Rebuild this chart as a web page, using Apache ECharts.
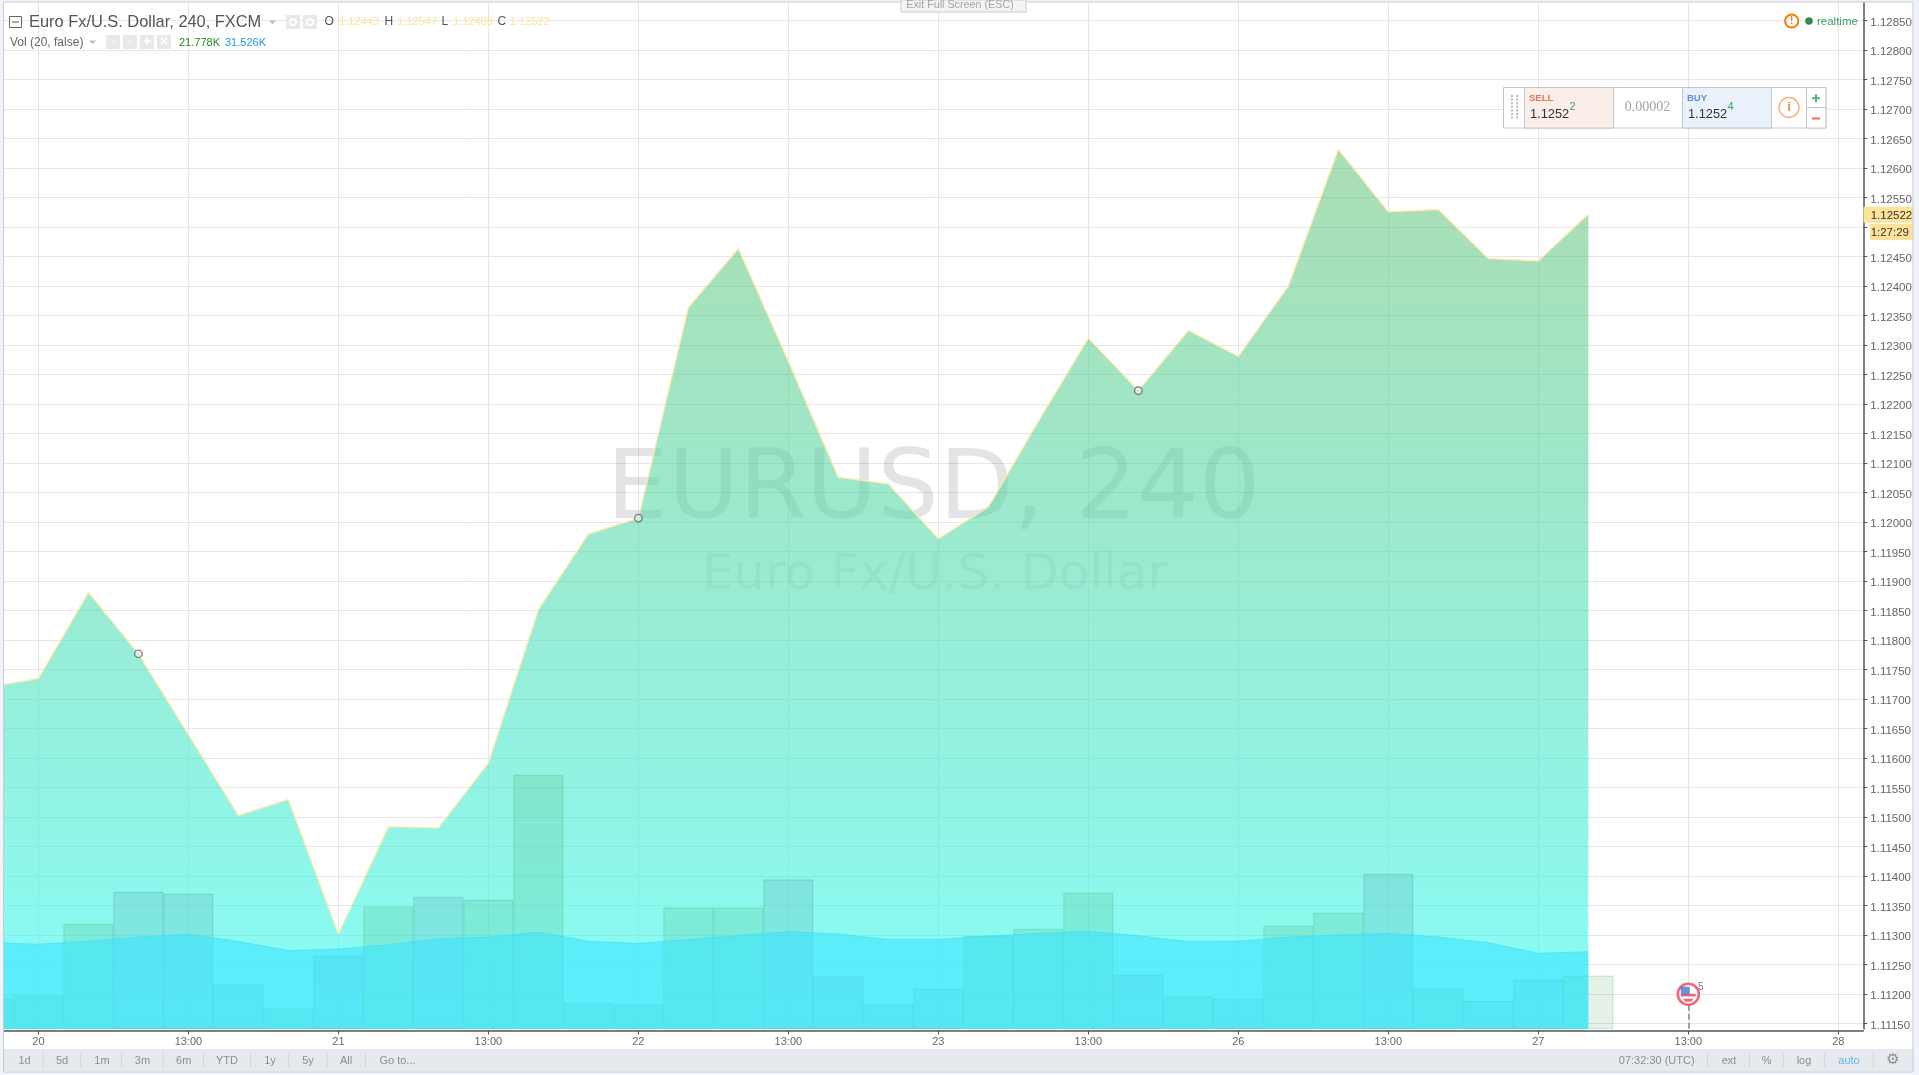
<!DOCTYPE html>
<html><head><meta charset="utf-8"><title>EURUSD 240</title>
<script src="https://cdn.jsdelivr.net/npm/echarts@6/dist/echarts.min.js"></script>
<style>html,body{margin:0;padding:0;background:#fff}#c{width:1919px;height:1075px}</style></head>
<body><div id="c"></div>
<script>
// bar index -1 .. 31 (4-hour bars), x tick every third bar
const barIndex = [-1,0,1,2,3,4,5,6,7,8,9,10,11,12,13,14,15,16,17,18,19,20,21,22,23,24,25,26,27,28,29,30,31];
const closes = [1.11720,1.11735,1.11881,1.11777,1.11640,1.11503,1.11530,1.11302,1.11484,1.11482,1.11592,1.11852,1.11980,1.12007,1.12364,1.12464,1.12273,1.12076,1.12065,1.11972,1.12026,1.12171,1.12312,1.12223,1.12325,1.12281,1.12400,1.12632,1.12526,1.12530,1.12447,1.12443,1.12522];
const volumes = [12.3,13.7,42.9,56.0,55.2,18.2,8.4,29.9,50.0,53.9,52.7,103.7,10.7,9.9,49.6,49.6,61.0,21.4,10.0,16.4,38.0,40.9,55.6,22.1,13.3,12.3,42.1,47.4,63.3,16.4,11.5,20.1,21.778];
const volumeMA = [35.2,34.6,35.8,37.5,38.6,35.7,32.0,32.6,34.4,36.8,37.5,39.5,35.8,34.9,36.5,38.1,39.7,38.8,36.5,36.5,37.9,39.0,39.9,38.0,35.7,35.8,37.5,38.3,39.0,37.5,35.2,30.9,31.526];
const markedBars = [2,12,22];
const xTickValues = [0,3,6,9,12,15,18,21,24,27,30,33,36];
const xTickLabels = ['20','13:00','21','13:00','22','13:00','23','13:00','26','13:00','27','13:00','28'];
const yTickValues = [1.1115,1.1120,1.1125,1.1130,1.1135,1.1140,1.1145,1.1150,1.1155,1.1160,1.1165,1.1170,1.1175,1.1180,1.1185,1.1190,1.1195,1.1200,1.1205,1.1210,1.1215,1.1220,1.1225,1.1230,1.1235,1.1240,1.1245,1.1250,1.1255,1.1260,1.1265,1.1270,1.1275,1.1280,1.1285];
const lastPrice = 1.12522;
const eventBar = 33, eventPrice = 1.1120;

const FONT = '"Liberation Sans",Arial,sans-serif';
const GRID = {left:4, top:2, width:1859.3, height:1027};
const UP = 'rgba(40,150,60,0.13)', DOWN = 'rgba(50,105,125,0.13)';
const UPB = 'rgba(40,150,60,0.2)', DOWNB = 'rgba(40,110,120,0.2)';

const chart = echarts.init(document.getElementById('c'), null, {renderer:'canvas'});
const G = [];
const T = (x,y,text,fill,size,o={}) => G.push({type:'text',z:o.z||30,style:{x,y,text,fill,font:`${o.weight||'normal'} ${size}px ${o.family||FONT}`,textAlign:o.align||'left',textVerticalAlign:'middle'}});
const R = (x,y,w,h,fill,o={}) => G.push({type:'rect',z:o.z||29,shape:{x,y,width:w,height:h},style:{fill,stroke:o.stroke||null,lineWidth:o.lw||1}});
const C = (cx,cy,r,fill,stroke,lw) => G.push({type:'circle',z:31,shape:{cx,cy,r},style:{fill,stroke,lineWidth:lw||1}});

// watermark (beneath the series)
T(933.5,493,'EURUSD, 240','rgba(0,0,0,0.105)',97,{z:1,align:'center',family:'"DejaVu Sans"'});
T(935,576,'Euro Fx/U.S. Dollar','rgba(0,0,0,0.075)',49.7,{z:1,align:'center',family:'"DejaVu Sans"'});

// outer frame
R(0,0,1919,2,'#f0f3fa',{z:40}); R(0,0,3.5,1075,'#f0f3fa',{z:40}); R(1913,0,6,1075,'#f0f3fa',{z:40}); R(0,1072,1919,3,'#f0f3fa',{z:40});
R(3.5,2,1909.5,1070,'none',{z:41,stroke:'#c9ccd3'});

// header
R(9.5,16.5,12,11,'#fff',{stroke:'#666'}); R(12,21.5,7,1,'#555');
T(29,22,'Euro Fx/U.S. Dollar, 240, FXCM','#555',16.4);
G.push({type:'polygon',z:30,shape:{points:[[269,20.5],[276,20.5],[272.5,24]]},style:{fill:'#bbb'}});
[286,303].forEach(x=>{R(x,15,14,14,'#e8e8e8');C(x+7,22,3,'none','#fff',2);});
T(324.5,22,'O','#555',12); T(339,22,'1.12443','#ffe39b',11);
T(384.5,22,'H','#555',12); T(397,22,'1.12547','#ffe39b',11);
T(441.5,22,'L','#555',12); T(453,22,'1.12408','#ffe39b',11);
T(497.5,22,'C','#555',12); T(510,22,'1.12522','#ffe39b',11);
T(10,43,'Vol (20, false)','#666',12);
G.push({type:'polygon',z:30,shape:{points:[[89,40.5],[96,40.5],[92.5,44]]},style:{fill:'#bbb'}});
[106,123,140,157].forEach((x,i)=>{R(x,35,14,14,'#e8e8e8');T(x+7,42,['◦','◦','+','×'][i],'#fff',14,{align:'center',weight:'bold'});});
T(179,42.5,'21.778K','#1f8a1f',11); T(225,42.5,'31.526K','#2196f3',11);

// Exit full screen tab
R(901,0,125,12,'#f4f4f4',{stroke:'#ccc',z:42});
T(960,5.5,'Exit Full Screen (ESC)','#a5a5a5',10.75,{align:'center',z:43});

// realtime
C(1791.7,21,6.6,'#fff','#f57c00',2); T(1791.7,21,'!','#f57c00',10,{align:'center',z:32,weight:'bold'});
C(1809,21,3.8,'#2e8b57','none'); T(1817,21.5,'realtime','#3f9a6b',11.5);

// trade widget
R(1503.5,87.5,322.5,40.5,'#fff',{stroke:'#c3c7cc'});
for(let k=0;k<7;k++){R(1511,95+k*3.6,2,2,'#bbb',{z:30});R(1516,95+k*3.6,2,2,'#bbb',{z:30});}
R(1524.5,87.5,89,40.5,'#fbeee9',{stroke:'#c3c7cc'});
T(1529,98.5,'SELL','#e8735a',9.5,{weight:'bold'});
T(1530,114,'1.1252','#333',12.8); T(1569.5,107,'2','#3aa76d',11);
T(1647.5,107.5,'0.00002','#a3a3a3',14,{align:'center',family:'"Liberation Serif",serif'});
R(1682.5,87.5,89,40.5,'#e9f1fa',{stroke:'#c3c7cc'});
T(1687,98.5,'BUY','#5b8fd0',9.5,{weight:'bold'});
T(1688,114,'1.1252','#333',12.8); T(1727.5,107,'4','#3aa76d',11);
R(1806.5,87.5,19.5,20,'#fff',{stroke:'#c3c7cc'}); R(1806.5,107.5,19.5,20.5,'#fff',{stroke:'#c3c7cc'});
C(1789,107.5,10,'#fff','#f9b27c',1.5); T(1789,107.5,'i','#f58d3c',13,{align:'center',z:32,weight:'bold'});
R(1812,97.2,8,2,'#4cb37a',{z:30});R(1815,94.2,2,8,'#4cb37a',{z:30});R(1812,117.5,8,2,'#e2705a',{z:30});

// price labels
R(1863.5,206.7,49.5,16,'#ffe39b',{z:20}); T(1870.7,215.5,'1.12522','#333',11.5,{z:21});
R(1870,224,43,16,'#ffe39b',{z:20}); T(1909,232.5,'1:27:29','#333',11.5,{z:21,align:'right'});

// bottom toolbar
R(4,1049,1909,22.5,'#e6e9ee',{z:25});
const left=[['1d',24.5],['5d',62],['1m',102],['3m',142.4],['6m',183.7],['YTD',227],['1y',270],['5y',308],['All',346],['Go to...',397.5]];
left.forEach(([t,x])=>T(x,1060.5,t,'#8d8d8d',11,{align:'center'}));
[42.4,80,121,162.4,203,250,288,326.5,365].forEach(x=>R(x,1053,1,14,'#d3d6db',{z:26}));
T(1656.7,1060.5,'07:32:30 (UTC)','#8d8d8d',11,{align:'center'});
T(1729,1060.5,'ext','#8d8d8d',11,{align:'center'}); T(1766.7,1060.5,'%','#8d8d8d',11,{align:'center'});
T(1804,1060.5,'log','#8d8d8d',11,{align:'center'}); T(1849,1060.5,'auto','#5bbce8',11,{align:'center'});
T(1893,1060,'⚙','#8d8d8d',15,{align:'center',family:'"DejaVu Sans"'});
[1707,1749,1783,1824,1872.7].forEach(x=>R(x,1053,1,14,'#d3d6db',{z:26}));

const closeData = barIndex.map((b,i)=>[b,closes[i]]);
const volData = barIndex.map((b,i)=>({value:[b,volumes[i]],itemStyle:(i===0||closes[i]>=closes[i-1])?{color:UP,borderColor:UPB,borderWidth:1}:{color:DOWN,borderColor:DOWNB,borderWidth:1}}));
const maData = barIndex.map((b,i)=>[b,volumeMA[i]]);
const marks = markedBars.map(b=>[b,closes[barIndex.indexOf(b)]]);

chart.setOption({
  animation:false, backgroundColor:'#fff',
  textStyle:{fontFamily:FONT},
  grid:GRID,
  xAxis:{type:'value',min:-0.688,max:36.5,offset:1.5,
    axisLine:{show:true,lineStyle:{color:'#555',width:1.5},onZero:false},
    axisTick:{show:true,length:4,lineStyle:{color:'#555'},customValues:xTickValues},
    axisLabel:{color:'#666',fontSize:11,margin:6,customValues:xTickValues,hideOverlap:false,
      formatter:v=>{const i=xTickValues.indexOf(v);return i<0?'':xTickLabels[i];}},
    splitLine:{show:true,lineStyle:{color:'#e6e6e6',width:1}}},
  yAxis:[
    {type:'value',position:'right',min:1.11141,max:1.128817,
     axisLine:{show:true,lineStyle:{color:'#555',width:1.5},onZero:false},
     axisTick:{show:true,length:4,lineStyle:{color:'#555'},customValues:yTickValues},
     axisLabel:{margin:7,customValues:yTickValues,formatter:v=>'{a|'+v.toFixed(5)+'}',
       rich:{a:{color:'#666',fontSize:11.5,fontFamily:FONT,padding:[4,0,0,0]}}},
     splitLine:{show:true,lineStyle:{color:'#e6e6e6',width:1}}},
    {type:'value',min:0,max:419,show:false,splitLine:{show:false}}
  ],
  graphic:G,
  series:[
    {name:'EURUSD',type:'line',data:closeData,symbol:'none',z:3,
     lineStyle:{color:'#ffeab0',width:1.4},
     areaStyle:{opacity:1,origin:'start',color:{type:'linear',x:0,y:0,x2:0,y2:1,colorStops:[{offset:0,color:'rgba(92,190,110,0.52)'},{offset:1,color:'rgba(62,252,245,0.62)'}]}},
     markLine:{silent:true,symbol:'none',label:{show:false},animation:false,lineStyle:{color:'#ffeab0',type:'dashed',width:1},data:[{yAxis:lastPrice}]}},
    {name:'Vol',type:'bar',yAxisIndex:1,data:volData,barWidth:50,z:4},
    {name:'Vol MA',type:'line',yAxisIndex:1,data:maData,symbol:'none',z:5,
     lineStyle:{color:'rgba(50,225,255,0.6)',width:1},
     areaStyle:{opacity:1,color:'rgba(58,228,255,0.58)'}},
    {name:'Marks',type:'scatter',data:marks,symbol:'circle',symbolSize:7.5,z:6,
     itemStyle:{color:'#e8e8e8',borderColor:'#555',borderWidth:1.2}},
    {name:'Event',type:'scatter',data:[[eventBar,eventPrice]],symbol:'circle',symbolSize:21,z:6,
     itemStyle:{color:'#fff',borderColor:'#f0415a',borderWidth:2.6},
     label:{show:true,position:'right',distance:-2,offset:[0,-7],formatter:'5',color:'#555',fontSize:10},
     markLine:{silent:true,symbol:'none',label:{show:false},lineStyle:{color:'#888',type:'dashed',width:1.5},
       data:[[{coord:[eventBar,eventPrice-0.00018]},{coord:[eventBar,1.11141]}]]}},
    {name:'EventFlag',type:'scatter',data:[[eventBar,eventPrice]],z:7,symbolSize:[15,8],symbolOffset:[0,3.5],
     symbol:'path://M0 0h20v4h-20zM3 7h14l-3 4h-8z',itemStyle:{color:'#f0415a'}},
    {name:'EventCanton',type:'scatter',data:[[eventBar,eventPrice]],z:8,symbolSize:[9,8],symbolOffset:[-3,-3.5],
     symbol:'rect',itemStyle:{color:'#4478d0'}}
  ]
});
</script></body></html>
